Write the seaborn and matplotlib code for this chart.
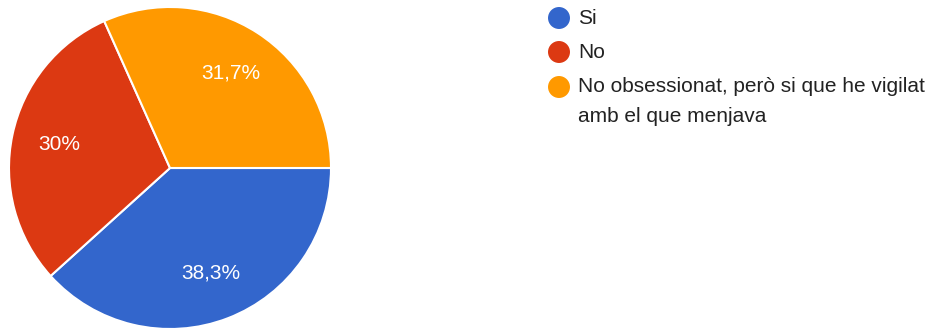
import matplotlib
matplotlib.use("Agg")
import matplotlib.pyplot as plt
import numpy as np
import seaborn as sns

sns.set_theme(style="white")
plt.rcParams["font.family"] = ["Liberation Sans", "DejaVu Sans"]

categories = ["Si", "No", "No obsessionat, però si que he vigilat\namb el que menjava"]
percentages = [38.3, 30.0, 31.7]
pct_labels = ["38,3%", "30%", "31,7%"]
colors = ["#3366cc", "#dc3912", "#ff9900"]

W, H = 938, 329
fig = plt.figure(figsize=(W / 100, H / 100), dpi=100)
fig.patch.set_facecolor("white")

# Pie axes positioned in pixel units
cx, cy, r = 170, 329 - 168, 161
ax = fig.add_axes([(cx - r) / W, (cy - r) / H, 2 * r / W, 2 * r / H])
wedges, _ = ax.pie(
    percentages,
    colors=colors,
    startangle=0,
    counterclock=False,
    radius=1.0,
    wedgeprops=dict(edgecolor="white", linewidth=1.5),
)
ax.set_xlim(-1, 1)
ax.set_ylim(-1, 1)
ax.set_aspect("equal")
ax.axis("off")

# Percentage labels at the middle angle of each wedge
for w, lab in zip(wedges, pct_labels):
    ang = np.deg2rad((w.theta1 + w.theta2) / 2)
    ax.text(0.70 * np.cos(ang), 0.70 * np.sin(ang), lab,
            ha="center", va="center", color="white", fontsize=15)

# Legend drawn on an overlay axes in pixel coordinates (y down)
lax = fig.add_axes([0, 0, 1, 1])
lax.set_xlim(0, W)
lax.set_ylim(H, 0)
lax.axis("off")
row_y = [18, 52, 87]
marker_x, text_x = 559, 578
lax.scatter([marker_x] * len(colors), row_y, s=np.pi * 11 ** 2 * (72 / 100) ** 2 * 1.27,
            c=colors, edgecolors="none")
for y, lab in zip(row_y, categories):
    lax.text(text_x, y, lab.split("\n")[0], ha="left", va="center",
             fontsize=15, color="#222222")
    for k, extra in enumerate(lab.split("\n")[1:], start=1):
        lax.text(text_x, y + 30 * k, extra, ha="left", va="center",
                 fontsize=15, color="#222222")

fig.savefig("out.png", dpi=100, facecolor="white")
